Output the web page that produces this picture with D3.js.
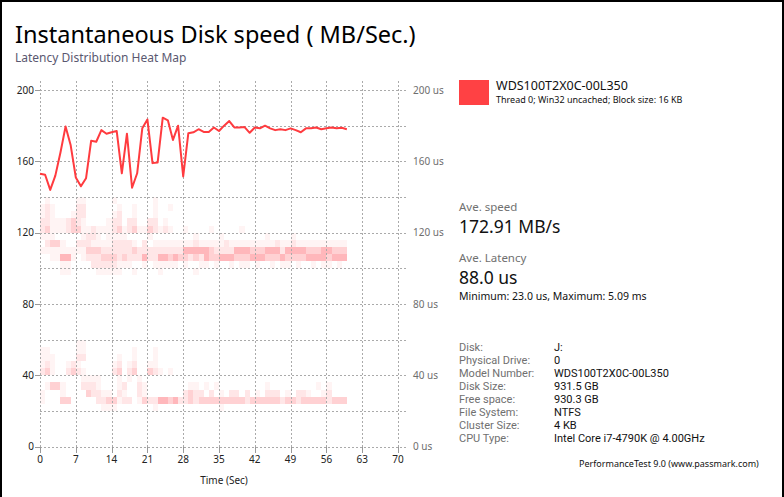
<!DOCTYPE html>
<html><head><meta charset="utf-8">
<script src="https://cdn.jsdelivr.net/npm/d3@7"></script>
<style>
body{margin:0;background:#fff}
svg{display:block}
text{font-family:"Segoe UI","Noto Sans","Open Sans",sans-serif}
</style>
</head><body>
<svg id="c" width="784" height="497"></svg>
<script>
// ---- data ----
// MB/s at each second (index = second)
const speed = [153,152.5,144,152,165,179.5,169,151,146,150.5,
  171.5,171,177.5,175.5,176.3,177,153.3,175.5,145.2,153.3,
  178.5,183.5,159,159.3,184.5,183,172,180,151.5,175.7,
  176.3,178,176.5,176.5,179,177,180,182.6,179,179,
  179.2,176,179,178.5,180,178.5,177.5,178,177.5,178.5,
  177.5,176.3,178.5,178.5,179,178,178.5,179,178.5,178.8,178];

const xTicks = [0,7,14,21,28,35,42,49,56,63,70];
const yLabelTicks = [0,40,80,120,160,200];
const yGrid = [0,20,40,60,80,100,120,140,160,180,200];
const rightLabels = ["0 us","40 us","80 us","120 us","160 us","200 us"];

// heat map: lower edge of each 4 us latency bin, and intensity per second (0-4)
const upperBins = [136,132,128,124,120,116,112,108,104,100,96];
const upperLevels = [
 "010000011000001000000010000000000000000000000000000000000000",
 "121000022000000100100010010000000000000000000000000000000000",
 "121000122000001200100010000000000000000000000000000000000000",
 "221112321000012202200220100000000000000000000000000000000000",
 "231112331121112312311321210010000100000100000000000000000000",
 "111000001221011110000100000000100001000000001000010000000000",
 "023310022211112222102011111111211111211111111121121111111111",
 "111111111333222222322222222244444322224443334442444433344333",
 "001144101222333232224224434332324334443334443334333344443444",
 "000011000022222111001011111010011010010110100101101001011010",
 "000011000001111100100001000000100000000000000000000000000000"
];
const lowerBins = [56,52,48,44,40,36,32,28,24,20];
const lowerLevels = [
 "000000011000000000000000000000000000000000000000000000000000",
 "110000011000000000100010000000000000000000000000000000000000",
 "111000022000000100100010000000000000000000000000000000000000",
 "121001210000001201200110000000000000000000000000000000000000",
 "231002321000002302300321010000000000000000000000000000000000",
 "000000001111000101010000000000000000000000000000000000000000",
 "013310002221000120021000000001101010000000001000000000101000",
 "100010000322110210021000000023220201022020102220102210012000",
 "100033000002233122013224434223233333333323333332332333332333",
 "000000000000111000000010000000000001000000000000000000000000"
];

const diskLabels = ["Disk:","Physical Drive:","Model Number:","Disk Size:","Free space:","File System:","Cluster Size:","CPU Type:"];
const diskValues = ["J:","0","WDS100T2X0C-00L350","931.5 GB","930.3 GB","NTFS","4 KB","Intel Core i7-4790K @ 4.00GHz"];

// ---- drawing ----
const svg = d3.select("#c");
const x = d3.scaleLinear().domain([0,70]).range([40,398]);
const y = d3.scaleLinear().domain([0,200]).range([446.7,90]);
const heatColor = d3.scaleLinear().domain([0,1,2,3,4])
  .range(["#ffffff","#fff4f4","#ffe6e7","#ffd1d3","#ffb7bb"]);

// border
svg.append("rect").attr("x",0).attr("y",0).attr("width",2).attr("height",497).attr("fill","#000");
svg.append("rect").attr("x",0).attr("y",0).attr("width",784).attr("height",2).attr("fill","#000");
svg.append("rect").attr("x",782).attr("y",0).attr("width",2).attr("height",497).attr("fill","#000");

// titles
svg.append("text").attr("x",15).attr("y",43).attr("font-size",23.5).attr("fill","#000")
  .text("Instantaneous Disk speed ( MB/Sec.)");
svg.append("text").attr("x",15).attr("y",62).attr("font-size",12).attr("fill","#5a5870")
  .text("Latency Distribution Heat Map");

// heat map
function drawBand(bins, levels){
  const cells = [];
  bins.forEach((b,i)=>{
    levels[i].slice(0,60).split("").forEach((c,t)=>{
      const v = +c;
      if(v>0) cells.push({t, b, v});
    });
  });
  svg.append("g").selectAll("rect").data(cells).join("rect")
    .attr("x",d=>x(d.t)).attr("width",d=>x(d.t+1)-x(d.t))
    .attr("y",d=>y(d.b+4)).attr("height",d=>y(d.b)-y(d.b+4))
    .attr("fill",d=>heatColor(d.v)).attr("shape-rendering","crispEdges");
}
drawBand(upperBins, upperLevels);
drawBand(lowerBins, lowerLevels);

// grid
const grid = svg.append("g").attr("stroke","#aaaaaa").attr("stroke-width",1).attr("stroke-dasharray","2,2");
grid.selectAll("line.h").data(yGrid).join("line")
  .attr("x1",40).attr("x2",406)
  .attr("y1",d=>Math.round(y(d))+0.5).attr("y2",d=>Math.round(y(d))+0.5);
grid.selectAll("line.v").data(xTicks).join("line")
  .attr("x1",d=>Math.round(x(d))+0.5).attr("x2",d=>Math.round(x(d))+0.5)
  .attr("y1",81).attr("y2",Math.round(y(0)));

// ticks
const ticks = svg.append("g").attr("stroke","#999").attr("stroke-width",1);
ticks.selectAll("line.l").data(yLabelTicks).join("line")
  .attr("x1",35).attr("x2",40)
  .attr("y1",d=>Math.round(y(d))+0.5).attr("y2",d=>Math.round(y(d))+0.5);
ticks.selectAll("line.b").data(xTicks).join("line")
  .attr("x1",d=>Math.round(x(d))+0.5).attr("x2",d=>Math.round(x(d))+0.5)
  .attr("y1",Math.round(y(0))).attr("y2",Math.round(y(0))+6);

// axis labels
svg.append("g").selectAll("text").data(yLabelTicks).join("text")
  .attr("x",34).attr("y",d=>y(d)).attr("dy","0.35em").attr("text-anchor","end")
  .attr("font-size",10).attr("fill","#222").text(d=>d);
svg.append("g").selectAll("text").data(yLabelTicks).join("text")
  .attr("x",413).attr("y",d=>y(d)).attr("dy","0.35em")
  .attr("font-size",10).attr("fill","#6e6e6e").text((d,i)=>rightLabels[i]);
svg.append("g").selectAll("text").data(xTicks).join("text")
  .attr("x",d=>x(d)).attr("y",463).attr("text-anchor","middle")
  .attr("font-size",10).attr("fill","#222").text(d=>d);
svg.append("text").attr("x",224).attr("y",484).attr("text-anchor","middle")
  .attr("font-size",10).attr("fill","#222").text("Time (Sec)");

// line
svg.append("path").datum(speed)
  .attr("d",d3.line().x((d,i)=>x(i)).y(d=>y(d)))
  .attr("fill","none").attr("stroke","#ff3b3f").attr("stroke-width",2)
  .attr("stroke-linejoin","round");

// legend / info panel
svg.append("rect").attr("x",459).attr("y",80).attr("width",30).attr("height",25).attr("fill","#ff4144");
svg.append("text").attr("x",496).attr("y",90).attr("font-size",12.5).attr("fill","#111").text("WDS100T2X0C-00L350");
svg.append("text").attr("x",496).attr("y",103).attr("font-size",9).attr("fill","#111").text("Thread 0; Win32 uncached; Block size: 16 KB");

svg.append("text").attr("x",459).attr("y",211).attr("font-size",11.5).attr("fill","#707070").text("Ave. speed");
svg.append("text").attr("x",459).attr("y",233).attr("font-size",17.5).attr("fill","#111").text("172.91 MB/s");
svg.append("text").attr("x",459).attr("y",262).attr("font-size",11.5).attr("fill","#707070").text("Ave. Latency");
svg.append("text").attr("x",459).attr("y",284).attr("font-size",17.5).attr("fill","#111").text("88.0 us");
svg.append("text").attr("x",459).attr("y",300).attr("font-size",10.5).attr("fill","#111").text("Minimum: 23.0 us, Maximum: 5.09 ms");

const info = svg.append("g").style("font-family","Roboto, 'Noto Sans', sans-serif");
info.selectAll("text.k").data(diskLabels).join("text")
  .style("font-family","Roboto, 'Noto Sans', sans-serif")
  .attr("x",459).attr("y",(d,i)=>351+i*12.95).attr("font-size",11).attr("fill","#707070").text(d=>d);
info.selectAll("text.v").data(diskValues).join("text")
  .style("font-family","Roboto, 'Noto Sans', sans-serif")
  .attr("x",554).attr("y",(d,i)=>351+i*12.95).attr("font-size",11).attr("fill","#111").text(d=>d);

svg.append("text").attr("x",579).attr("y",467).attr("font-size",9).attr("fill","#111")
  .text("PerformanceTest 9.0 (www.passmark.com)");
</script>
</body></html>
